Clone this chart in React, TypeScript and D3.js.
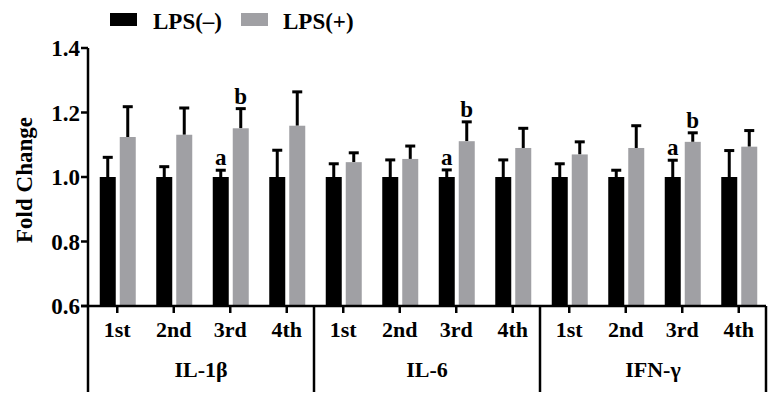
import React from "react";
import * as d3 from "d3";

const groups = ["IL-1β", "IL-6", "IFN-γ"];
const categories = ["1st", "2nd", "3rd", "4th"];
const seriesNames = ["LPS(–)", "LPS(+)"];

// values per group (12 entries: group-major)
const negMean = [1.0, 1.0, 1.0, 1.0, 1.0, 1.0, 1.0, 1.0, 1.0, 1.0, 1.0, 1.0];
const negErr = [0.061, 0.032, 0.021, 0.083, 0.041, 0.053, 0.022, 0.053, 0.041, 0.021, 0.052, 0.082];
const posMean = [1.124, 1.131, 1.151, 1.159, 1.046, 1.056, 1.111, 1.09, 1.07, 1.09, 1.109, 1.094];
const posErr = [0.094, 0.083, 0.061, 0.105, 0.029, 0.04, 0.06, 0.061, 0.039, 0.069, 0.028, 0.05];
const negLetters = ["", "", "a", "", "", "", "a", "", "", "", "a", ""];
const posLetters = ["", "", "b", "", "", "", "b", "", "", "", "b", ""];
const yTicks = [0.6, 0.8, 1.0, 1.2, 1.4];

const BLACK = "#000000";
const GRAY = "#a0a0a4";
const FONT = "'Liberation Serif', 'Times New Roman', serif";

export default function App() {
  const W = 780, H = 402;
  const left = 88, right = 766, axisY = 306, topY = 48;
  const keys: string[] = [];
  groups.forEach((g) => categories.forEach((c) => keys.push(g + "|" + c)));
  const x = d3.scaleBand<string>().domain(keys).range([left, right]).padding(0);
  const y = d3.scaleLinear().domain([0.6, 1.4]).range([axisY, topY]);
  const gx = d3.scaleBand<string>().domain(groups).range([left, right]).padding(0);
  const bw = 16;
  const capW = 10;
  const ew = 3;

  const bars: React.ReactNode[] = [];
  keys.forEach((k, i) => {
    const cx = (x(k) as number) + x.bandwidth() / 2 + 1.5;
    const items = [
      { x0: cx - 18, m: negMean[i], e: negErr[i], c: BLACK, l: negLetters[i] },
      { x0: cx + 2, m: posMean[i], e: posErr[i], c: GRAY, l: posLetters[i] },
    ];
    items.forEach((it, j) => {
      const mx = it.x0 + bw / 2;
      const yt = y(it.m + it.e);
      bars.push(
        <g key={k + j}>
          <line x1={mx} x2={mx} y1={y(it.m)} y2={yt} stroke="#000" strokeWidth={ew} />
          <line x1={mx - capW / 2} x2={mx + capW / 2} y1={yt} y2={yt} stroke="#000" strokeWidth={ew} />
          <rect x={it.x0} y={y(it.m)} width={bw} height={axisY - y(it.m)} fill={it.c} />
          {it.l ? (
            <text x={mx} y={yt - 5} textAnchor="middle" fontSize={23} fontWeight="bold" fontFamily={FONT}>
              {it.l}
            </text>
          ) : null}
        </g>
      );
    });
  });

  return (
    <svg width={W} height={H} style={{ position: "absolute", left: 0, top: 0, background: "#fff" }}>
      {/* legend */}
      <rect x={110} y={13} width={27} height={13} fill={BLACK} />
      <text x={153} y={29} fontSize={23} fontWeight="bold" fontFamily={FONT}>{seriesNames[0]}</text>
      <rect x={241} y={13} width={27} height={13} fill={GRAY} />
      <text x={283} y={29} fontSize={23} fontWeight="bold" fontFamily={FONT}>{seriesNames[1]}</text>

      {bars}

      {/* y axis */}
      <line x1={left} x2={left} y1={topY} y2={axisY} stroke="#000" strokeWidth={2.5} />
      {yTicks.map((t) => (
        <g key={t}>
          <line x1={left - 7} x2={left} y1={y(t)} y2={y(t)} stroke="#000" strokeWidth={2.5} />
          <text x={80} y={y(t)} dy="0.35em" textAnchor="end" fontSize={23} fontWeight="bold" fontFamily={FONT}>
            {d3.format(".1f")(t)}
          </text>
        </g>
      ))}
      <text
        transform={`translate(32,180) rotate(-90)`}
        textAnchor="middle"
        fontSize={23}
        fontWeight="bold"
        fontFamily={FONT}
      >
        Fold Change
      </text>

      {/* x axis */}
      <line x1={left - 7} x2={right} y1={axisY} y2={axisY} stroke="#000" strokeWidth={2.5} />
      {keys.map((k, i) => {
        const cx = (x(k) as number) + x.bandwidth() / 2 + 1;
        return (
          <g key={"t" + k}>
            <line x1={cx} x2={cx} y1={axisY} y2={axisY + 7} stroke="#000" strokeWidth={2.5} />
            <text x={cx} y={337} textAnchor="middle" fontSize={22} fontWeight="bold" fontFamily={FONT}>
              {categories[i % categories.length]}
            </text>
          </g>
        );
      })}
      {groups.map((g) => (
        <text
          key={"g" + g}
          x={(gx(g) as number) + gx.bandwidth() / 2}
          y={377}
          textAnchor="middle"
          fontSize={22}
          fontWeight="bold"
          fontFamily={FONT}
        >
          {g}
        </text>
      ))}
      {[...groups.map((g) => gx(g) as number), right].map((sx, i) => (
        <line key={"s" + i} x1={sx} x2={sx} y1={axisY} y2={392} stroke="#000" strokeWidth={2.5} />
      ))}
    </svg>
  );
}
